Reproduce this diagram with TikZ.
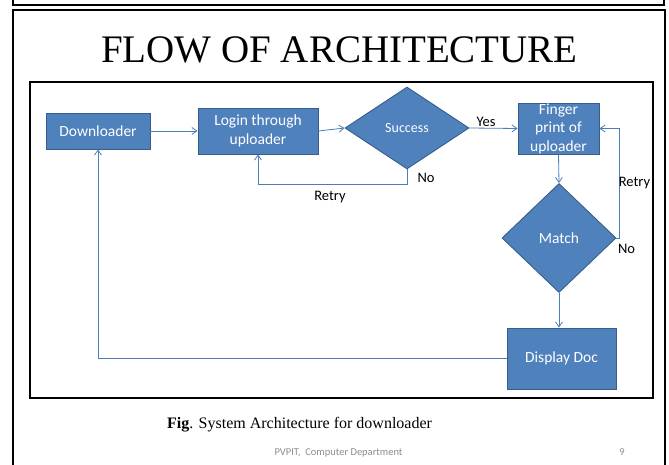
\documentclass[tikz,border=0pt]{standalone}
\usepackage{fontspec}
\setmainfont{Liberation Serif}
\newfontfamily\carl{Carlito}
\usetikzlibrary{shapes.geometric,arrows.meta}

\definecolor{boxfill}{HTML}{4F81BD}
\definecolor{boxline}{HTML}{385D8A}
\definecolor{wirecol}{HTML}{4A7EBB}
\definecolor{footcol}{HTML}{8C8C8C}

\begin{document}
\begin{tikzpicture}[x=1pt,y=-1pt,
  block/.style={rectangle, fill=boxfill, draw=boxline, line width=0.9pt,
    text=white, font=\carl\fontsize{15.5}{18.5}\selectfont, align=center, inner sep=0pt},
  decision/.style={diamond, fill=boxfill, draw=boxline, line width=0.9pt,
    text=white, font=\carl\fontsize{15.5}{18.5}\selectfont, inner sep=0pt},
  wire/.style={draw=wirecol, line width=0.8pt},
  arr/.style={wire, -{Straight Barb[length=5pt,width=7pt]}},
  lbl/.style={font=\carl\fontsize{14.5}{17}\selectfont, text=black, inner sep=0pt}]

\useasboundingbox (0,0) rectangle (669,465);

% slide frames
\draw[line width=1.8pt] (13,-2) -- (13,5) -- (664,5) -- (664,-2);
\draw[line width=1.8pt] (13,470) -- (13,10) -- (665,10) -- (665,470);
\draw[line width=1.5pt] (30,82) rectangle (653,398);

% title
\node[font=\fontsize{39}{44}\selectfont, anchor=base, inner sep=0pt] (title) at (339.5,63) {FLOW OF ARCHITECTURE};

% flow chart
\node[block, minimum width=104pt, minimum height=36pt] (down) at (98,131) {Downloader};
\node[block, minimum width=120pt, minimum height=46pt] (login) at (258,131) {Login through\\uploader};
\node[decision, minimum width=124pt, minimum height=82pt, font=\carl\fontsize{14}{17}\selectfont] (succ) at (407,128) {Success};
\node[block, minimum width=81pt, minimum height=51pt] (finger) at (558.5,128.5) {Finger\\print of\\uploader};
\node[decision, minimum width=114pt, minimum height=109pt] (match) at (559,238) {Match};
\node[block, minimum width=109pt, minimum height=61pt] (disp) at (561.5,358.5) {Display Doc};

% connectors
\draw[arr] (down.east) -- (login.west);
\draw[arr] (login.east) -- (succ.west);
\draw[arr] (succ.south) -- ++(0,15) -| (login.south);
\draw[arr] (succ.east) -- (finger.west);
\draw[arr] (finger.south) -- (match.north);
\draw[arr] (match.east) -- ++(3,0) |- (finger.east);
\draw[arr] (match.south) -- (match.south |- disp.north);
\draw[arr] (disp.west) -| (down.south);

% connector labels
\node[lbl] (yes) at (486,122) {Yes};
\node[lbl] (no1) at (426,178) {No};
\node[lbl] (retry1) at (330,197) {Retry};
\node[lbl] (retry2) at (634.5,183) {Retry};
\node[lbl] (no2) at (626.5,249) {No};

% caption and footer
\node[anchor=base west, font=\fontsize{16}{19}\selectfont, inner sep=0pt] (cap) at (167,428) {\textbf{Fig}. System Architecture for downloader};
\node[anchor=base, font=\carl\fontsize{10.5}{12}\selectfont, text=footcol, inner sep=0pt] (foot) at (338.5,455) {PVPIT,~ Computer Department};
\node[anchor=base, font=\carl\fontsize{10.5}{12}\selectfont, text=footcol, inner sep=0pt] (page) at (622,455) {9};
\end{tikzpicture}
\end{document}
